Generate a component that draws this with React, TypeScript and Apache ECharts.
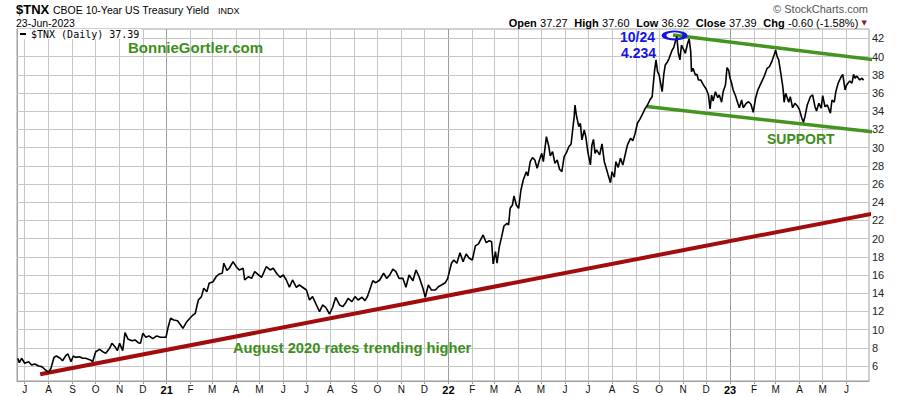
import React, { useEffect, useRef } from "react";
import * as echarts from "echarts";

// ---------------- data ----------------
const X_START = "2020-06-21";
const X_END = "2023-06-30";

const DATES = [
  "2020-06-22","2020-06-24","2020-06-27","2020-07-01","2020-07-06","2020-07-10","2020-07-14","2020-07-19","2020-07-23","2020-07-27",
  "2020-08-01","2020-08-04","2020-08-08","2020-08-11","2020-08-16","2020-08-19","2020-08-23","2020-08-26","2020-08-30","2020-09-02",
  "2020-09-05","2020-09-10","2020-09-14","2020-09-18","2020-09-24","2020-09-27","2020-10-01","2020-10-06","2020-10-10","2020-10-14",
  "2020-10-19","2020-10-22","2020-10-26","2020-10-29","2020-11-01","2020-11-05","2020-11-08","2020-11-12","2020-11-17","2020-11-21",
  "2020-11-25","2020-11-28","2020-12-01","2020-12-05","2020-12-09","2020-12-14","2020-12-19","2020-12-24","2020-12-31","2021-01-03",
  "2021-01-06","2021-01-10","2021-01-15","2021-01-19","2021-01-22","2021-01-27","2021-01-31","2021-02-04","2021-02-07","2021-02-11",
  "2021-02-15","2021-02-18","2021-02-22","2021-02-25","2021-03-02","2021-03-06","2021-03-10","2021-03-14","2021-03-16","2021-03-20",
  "2021-03-23","2021-03-28","2021-04-01","2021-04-05","2021-04-10","2021-04-12","2021-04-17","2021-04-21","2021-04-25","2021-04-30",
  "2021-05-04","2021-05-10","2021-05-15","2021-05-19","2021-05-24","2021-05-28","2021-06-01","2021-06-05","2021-06-09","2021-06-13",
  "2021-06-18","2021-06-22","2021-06-26","2021-07-01","2021-07-05","2021-07-09","2021-07-14","2021-07-18","2021-07-22","2021-07-26",
  "2021-07-31","2021-08-04","2021-08-08","2021-08-13","2021-08-17","2021-08-21","2021-08-24","2021-08-29","2021-09-02","2021-09-06",
  "2021-09-11","2021-09-15","2021-09-18","2021-09-21","2021-09-25","2021-09-29","2021-10-04","2021-10-09","2021-10-13","2021-10-17",
  "2021-10-21","2021-10-25","2021-10-29","2021-11-03","2021-11-07","2021-11-11","2021-11-16","2021-11-20","2021-11-24","2021-11-29",
  "2021-12-02","2021-12-06","2021-12-10","2021-12-15","2021-12-19","2021-12-23","2021-12-28","2021-12-31","2022-01-05","2022-01-08",
  "2022-01-12","2022-01-16","2022-01-20","2022-01-24","2022-01-28","2022-02-01","2022-02-05","2022-02-09","2022-02-12","2022-02-15",
  "2022-02-19","2022-02-23","2022-02-26","2022-02-28","2022-03-03","2022-03-05","2022-03-08","2022-03-11","2022-03-14","2022-03-18",
  "2022-03-20","2022-03-22","2022-03-25","2022-03-27","2022-03-30","2022-04-02","2022-04-05","2022-04-08","2022-04-12","2022-04-14",
  "2022-04-17","2022-04-20","2022-04-23","2022-04-26","2022-04-29","2022-05-02","2022-05-04","2022-05-08","2022-05-11","2022-05-13",
  "2022-05-16","2022-05-19","2022-05-22","2022-05-25","2022-05-28","2022-05-31","2022-06-03","2022-06-06","2022-06-09","2022-06-11",
  "2022-06-13","2022-06-14","2022-06-16","2022-06-19","2022-06-21","2022-06-23","2022-06-26","2022-06-28","2022-07-01","2022-07-04",
  "2022-07-06","2022-07-08","2022-07-10","2022-07-12","2022-07-16","2022-07-19","2022-07-22","2022-07-24","2022-07-27","2022-07-30",
  "2022-08-01","2022-08-04","2022-08-06","2022-08-09","2022-08-12","2022-08-15","2022-08-18","2022-08-21","2022-08-25","2022-08-28",
  "2022-08-31","2022-09-03","2022-09-06","2022-09-09","2022-09-13","2022-09-16","2022-09-19","2022-09-22","2022-09-25","2022-09-27",
  "2022-09-29","2022-10-01","2022-10-05","2022-10-07","2022-10-09","2022-10-12","2022-10-14","2022-10-18","2022-10-20","2022-10-22",
  "2022-10-24","2022-10-26","2022-10-28","2022-10-30","2022-11-02","2022-11-04","2022-11-07","2022-11-09","2022-11-11","2022-11-12",
  "2022-11-14","2022-11-17","2022-11-19","2022-11-21","2022-11-24","2022-11-27","2022-12-01","2022-12-04","2022-12-06","2022-12-08",
  "2022-12-10","2022-12-13","2022-12-16","2022-12-18","2022-12-21","2022-12-23","2022-12-26","2022-12-28","2022-12-30","2023-01-01",
  "2023-01-03","2023-01-05","2023-01-08","2023-01-11","2023-01-13","2023-01-16","2023-01-18","2023-01-22","2023-01-25","2023-01-28",
  "2023-01-31","2023-02-03","2023-02-06","2023-02-08","2023-02-11","2023-02-14","2023-02-18","2023-02-21","2023-02-24","2023-02-27",
  "2023-03-01","2023-03-03","2023-03-05","2023-03-08","2023-03-10","2023-03-11","2023-03-12","2023-03-14","2023-03-16","2023-03-18",
  "2023-03-20","2023-03-23","2023-03-26","2023-03-29","2023-04-01","2023-04-04","2023-04-06","2023-04-08","2023-04-11","2023-04-15",
  "2023-04-18","2023-04-21","2023-04-23","2023-04-26","2023-04-29","2023-05-01","2023-05-04","2023-05-07","2023-05-11","2023-05-13",
  "2023-05-16","2023-05-18","2023-05-21","2023-05-25","2023-05-27","2023-05-30","2023-06-01","2023-06-05","2023-06-08","2023-06-10",
  "2023-06-12","2023-06-14","2023-06-18","2023-06-21","2023-06-23",
];

const TNX = [
  6.85,6.36,6.85,6.30,6.47,6.11,6.22,6.00,5.93,5.64,
  5.30,5.75,6.95,7.10,6.85,6.58,7.10,7.32,6.47,7.10,
  6.95,7.02,6.85,6.85,6.66,6.47,7.57,7.83,7.57,7.40,
  7.95,8.49,8.12,7.68,8.49,7.68,9.66,8.93,8.78,8.86,
  8.56,8.49,9.59,9.15,9.30,9.00,9.30,9.15,9.15,10.32,
  11.24,11.05,10.98,10.51,10.14,10.87,11.24,11.60,11.79,13.25,
  13.62,14.54,14.16,15.09,15.26,15.81,16.11,16.19,17.29,16.50,
  16.74,17.46,16.91,16.55,16.74,15.45,15.81,15.63,16.36,16.00,
  15.75,16.91,16.55,16.74,16.11,15.75,16.00,15.45,14.65,15.45,
  14.65,14.90,14.65,14.35,13.25,13.62,12.70,11.97,12.70,12.45,
  11.71,12.45,13.55,12.70,12.52,12.96,13.44,13.07,13.62,13.25,
  13.55,13.18,13.62,14.35,15.37,15.15,15.45,16.19,15.63,16.00,
  16.63,16.36,15.63,15.63,14.65,16.00,15.37,16.55,15.81,14.54,
  13.55,14.90,14.35,14.35,14.71,14.90,15.15,15.60,17.29,17.65,
  17.29,18.45,17.46,18.31,17.84,17.65,19.19,19.41,19.92,20.40,
  19.55,19.77,19.66,17.21,18.56,17.29,19.11,20.21,21.38,21.68,
  21.49,23.33,23.69,24.68,23.69,23.33,25.34,26.44,27.35,26.88,
  28.45,28.89,28.64,27.73,28.64,29.37,28.45,31.20,30.18,29.08,
  29.55,28.27,28.64,27.62,27.35,29.00,29.44,30.10,30.40,31.93,
  33.40,34.68,33.47,32.30,32.67,30.84,31.93,31.20,29.37,28.09,
  30.29,30.90,29.37,29.74,29.19,30.40,28.45,27.90,26.99,26.14,
  27.35,26.74,28.45,27.82,28.82,28.09,29.19,30.29,31.02,30.76,
  31.57,32.70,33.10,33.58,34.31,34.68,35.23,35.59,38.34,39.63,
  38.34,37.98,36.14,37.98,39.08,39.44,39.81,40.73,40.98,41.64,
  42.20,40.36,39.63,41.27,40.73,40.36,41.46,41.93,40.54,38.34,
  38.71,37.98,38.05,37.43,37.43,36.95,36.44,35.78,34.24,35.78,
  35.12,36.14,35.48,35.78,34.98,36.14,36.88,38.78,38.53,37.62,
  37.07,36.33,35.70,34.87,34.38,35.23,34.38,34.87,35.04,34.76,
  33.88,35.42,36.33,36.69,37.24,37.79,38.71,38.89,39.44,40.18,
  40.73,39.99,39.63,37.98,36.88,36.14,34.98,35.96,35.48,34.98,
  35.59,34.38,34.87,34.60,34.13,33.22,32.78,33.40,34.68,35.59,
  35.78,34.49,34.02,34.87,34.32,35.70,34.49,34.68,33.77,35.23,
  34.98,36.14,37.07,37.79,38.05,36.33,36.88,37.32,37.07,38.05,
  37.62,37.87,37.43,37.62,37.39,
];

// trend lines (drawn by the user on the original chart)
const RISING_TREND_DATES = ["2020-07-21", "2023-08-09"];
const RISING_TREND_VALUES = [5.09, 23.32];
const RESISTANCE_DATES = ["2022-10-19", "2023-07-24"];
const RESISTANCE_VALUES = [42.37, 39.48];
const SUPPORT_DATES = ["2022-09-15", "2023-07-11"];
const SUPPORT_VALUES = [34.52, 31.66];
const PEAK_MARK_DATE = "2022-10-21";
const PEAK_MARK_VALUE = 42.32;

const Y_TICKS = [6, 8, 10, 12, 14, 16, 18, 20, 22, 24, 26, 28, 30, 32, 34, 36, 38, 40, 42];
const MONTH_LETTERS = ["J", "F", "M", "A", "M", "J", "J", "A", "S", "O", "N", "D"];
const FIRST_TICK_MONTH = "2020-07-01";
const LAST_TICK_MONTH = "2023-06-01";

const SERIES_NAME = "$TNX (Daily) 37.39";

// ---------------- helpers ----------------
const DAY = 86400000;
const toUTC = (s: string) => {
  const [y, m, d] = s.split("-").map(Number);
  return Date.UTC(y, m - 1, d);
};
const ORIGIN = toUTC(X_START);
const dayOf = (s: string) => (toUTC(s) - ORIGIN) / DAY;
const monthOfDay = (v: number) => new Date(ORIGIN + Math.round(v) * DAY).getUTCMonth();

const monthTicks: number[] = [];
{
  const [y0, m0] = FIRST_TICK_MONTH.split("-").map(Number);
  const [y1, m1] = LAST_TICK_MONTH.split("-").map(Number);
  let y = y0, m = m0;
  while (y < y1 || (y === y1 && m <= m1)) {
    monthTicks.push((Date.UTC(y, m - 1, 1) - ORIGIN) / DAY);
    m++;
    if (m > 12) { m = 1; y++; }
  }
}
const GRID_LIGHT = "#c6c6c6";
const GRID_YEAR = "#9e9e9e";

const FONT = '"Liberation Sans", Arial, Helvetica, sans-serif';
const GREEN = "#3e8e1c";
const BLUE = "#1414e0";

const txt = (x: number, y: number, text: string, font: string, fill: string, align = "left", extra: any = {}) => ({
  type: "text",
  x,
  y,
  silent: true,
  z: 100,
  style: {
    text,
    font,
    fill,
    textAlign: align,
    textVerticalAlign: "middle",
    align,
    verticalAlign: "middle",
    ...extra,
  },
});

function buildOption(): any {
  const pairs = (ds: string[], vs: number[]) => ds.map((d, i) => [dayOf(d), vs[i]]);
  const gridLines = [
    ...monthTicks.map((v) => ({
      xAxis: v,
      lineStyle: { color: monthOfDay(v) === 0 ? GRID_YEAR : GRID_LIGHT, width: 1, type: "solid" },
    })),
    ...Y_TICKS.map((v) => ({ yAxis: v, lineStyle: { color: GRID_LIGHT, width: 1, type: "solid" } })),
  ];
  return {
    animation: false,
    backgroundColor: "#ffffff",
    textStyle: { fontFamily: FONT },
    grid: {
      left: 17,
      top: 29,
      width: 852,
      height: 352,
      show: true,
      borderColor: "#a0a0a0",
      borderWidth: 1,
      backgroundColor: "transparent",
      containLabel: false,
    },
    legend: {
      data: [SERIES_NAME],
      left: 18,
      top: 29,
      padding: [0, 2, 0, 2],
      backgroundColor: "#ffffff",
      z: 10,
      icon: "rect",
      itemWidth: 6,
      itemHeight: 2,
      selectedMode: false,
      textStyle: { fontFamily: '"DejaVu Sans Mono", monospace', fontSize: 10, color: "#000" },
    },
    xAxis: {
      type: "value",
      min: 0,
      max: dayOf(X_END),
      axisLine: { show: true, onZero: false, lineStyle: { color: "#a0a0a0" } },
      axisTick: { show: true, customValues: monthTicks, length: 3, lineStyle: { color: "#a0a0a0" } },
      axisLabel: {
        customValues: monthTicks,
        fontSize: 10,
        fontFamily: FONT,
        color: "#111",
        margin: 3,
        formatter: (v: number) => {
          const d = new Date(ORIGIN + Math.round(v) * DAY);
          const m = d.getUTCMonth();
          if (m === 0) return "{y|" + String(d.getUTCFullYear()).slice(2) + "}";
          return MONTH_LETTERS[m];
        },
        rich: { y: { fontWeight: "bold", fontSize: 11, fontFamily: FONT, color: "#000" } },
      },
      splitLine: { show: false },
    },
    yAxis: {
      type: "value",
      position: "right",
      min: 4.35,
      max: 43.03,
      axisLine: { show: true, lineStyle: { color: "#a0a0a0" } },
      axisTick: { show: true, customValues: Y_TICKS, length: 2, lineStyle: { color: "#a0a0a0" } },
      axisLabel: { customValues: Y_TICKS, fontSize: 11, fontFamily: FONT, color: "#222", margin: 3 },
      splitLine: { show: false },
    },
    series: [
      {
        name: "grid",
        type: "line",
        data: [[0, 4.35]],
        showSymbol: false,
        silent: true,
        z: 1,
        lineStyle: { opacity: 0 },
        markLine: {
          z: 1,
          silent: true,
          symbol: "none",
          animation: false,
          label: { show: false },
          emphasis: { disabled: true },
          data: gridLines,
        },
      },
      {
        name: "rising",
        type: "line",
        data: pairs(RISING_TREND_DATES, RISING_TREND_VALUES),
        showSymbol: false,
        clip: false,
        silent: true,
        z: 2,
        lineStyle: { color: "#a20c0c", width: 4, cap: "butt" },
      },
      {
        name: "resistance",
        type: "line",
        data: pairs(RESISTANCE_DATES, RESISTANCE_VALUES),
        showSymbol: false,
        clip: false,
        silent: true,
        z: 2,
        lineStyle: { color: "#43951f", width: 3.5 },
      },
      {
        name: "support",
        type: "line",
        data: pairs(SUPPORT_DATES, SUPPORT_VALUES),
        showSymbol: false,
        clip: false,
        silent: true,
        z: 2,
        lineStyle: { color: "#43951f", width: 3.5 },
      },
      {
        name: SERIES_NAME,
        type: "line",
        data: pairs(DATES, TNX),
        showSymbol: false,
        color: "#000",
        itemStyle: { color: "#000" },
        lineStyle: { color: "#000", width: 1.6 },
        z: 3,
        markPoint: {
          silent: true,
          symbol: "circle",
          symbolSize: [21, 8],
          label: { show: false },
          itemStyle: { color: "rgba(0,0,0,0)", borderColor: BLUE, borderWidth: 3 },
          data: [{ coord: [dayOf(PEAK_MARK_DATE), PEAK_MARK_VALUE] }],
        },
      },
    ],
    graphic: [
      txt(16, 9, "$TNX", "bold 13px " + FONT, "#000"),
      txt(53, 10, "CBOE 10-Year US Treasury Yield", "10.5px " + FONT, "#000"),
      txt(218, 10.5, "INDX", "9px " + FONT, "#000"),
      txt(16, 23, "23-Jun-2023", "10.5px " + FONT, "#000"),
      txt(868, 9, "\u00A9 StockCharts.com", "11px " + FONT, "#555", "right"),
      {
        type: "text",
        x: 867,
        y: 23,
        silent: true,
        z: 100,
        style: {
          text:
            "{b|Open} {n|37.27}  {b|High} {n|37.60}  {b|Low} {n|36.92}  {b|Close} {n|37.39}  {b|Chg} {n|-0.60 (-1.58%)} {t|\u25BC}",
          textAlign: "right",
          align: "right",
          textVerticalAlign: "middle",
          verticalAlign: "middle",
          rich: {
            b: { fontWeight: "bold", fontSize: 11, fontFamily: FONT, fill: "#000" },
            n: { fontSize: 11, fontFamily: FONT, fill: "#000" },
            t: { fontSize: 7, fontFamily: '"DejaVu Sans", sans-serif', fill: "#8b1a40" },
          },
        },
      },
      txt(128, 47.5, "BonnieGortler.com", "bold 15px " + FONT, GREEN),
      txt(620, 36.5, "10/24", "bold 14px " + FONT, BLUE, "left", { lineHeight: 14 }),
      txt(621, 52.5, "4.234", "bold 14px " + FONT, BLUE, "left", { lineHeight: 14 }),
      txt(767, 139, "SUPPORT", "bold 14px " + FONT, GREEN),
      txt(233, 348, "August 2020 rates trending higher", "bold 14.7px " + FONT, GREEN),
    ],
  };
}

export default function App() {
  const ref = useRef<HTMLDivElement>(null);
  useEffect(() => {
    if (!ref.current) return;
    const chart = echarts.init(ref.current, undefined, { renderer: "svg" });
    chart.setOption(buildOption());
    return () => chart.dispose();
  }, []);
  return (
    <div
      ref={ref}
      style={{ position: "absolute", left: 0, top: 0, width: 900, height: 396, background: "#fff" }}
    />
  );
}
